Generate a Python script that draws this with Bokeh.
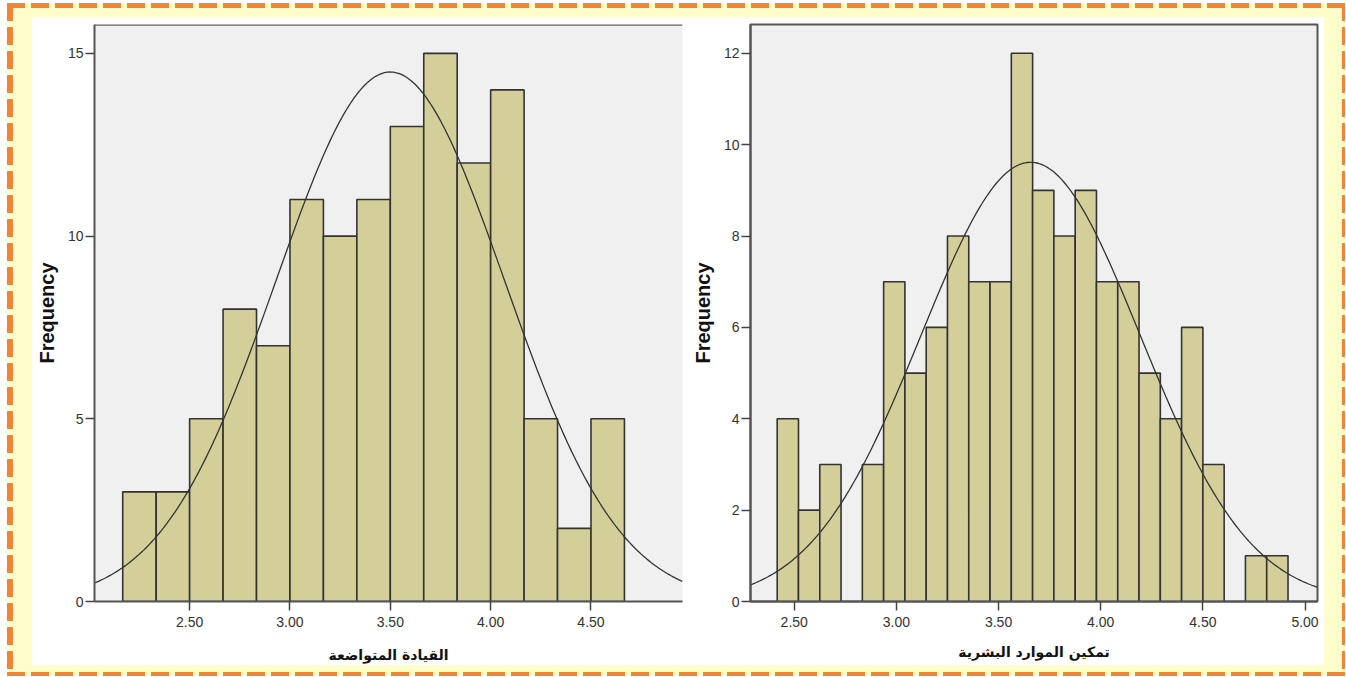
import numpy as np
from bokeh.plotting import figure
from bokeh.layouts import row, column
from bokeh.models import Range1d, FixedTicker, Span, PrintfTickFormatter
from bokeh.embed import file_html
from bokeh.resources import INLINE

# ---------------- data ----------------
left_counts = [3, 3, 5, 8, 7, 11, 10, 11, 13, 15, 12, 14, 5, 2, 5]
left_bin_start = 13 / 6
left_bin_width = 1 / 6
left_mean, left_sd, left_n = 3.50, 0.569, 124
left_xticks = [2.5, 3.0, 3.5, 4.0, 4.5]
left_yticks = [0, 5, 10, 15]
left_xlabel = "القيادة المتواضعة"

right_counts = [4, 2, 3, 0, 3, 7, 5, 6, 8, 7, 7, 12, 9, 8, 9, 7, 7, 5, 4, 6, 3, 0, 1, 1]
right_bin_start = 2.4167
right_bin_width = 2.5 / 24
right_mean, right_sd, right_n = 3.657, 0.536, 124
right_xticks = [2.5, 3.0, 3.5, 4.0, 4.5, 5.0]
right_yticks = [0, 2, 4, 6, 8, 10, 12]
right_xlabel = "تمكين الموارد البشرية"

ylabel = "Frequency"

BAR = "#d4cf99"
BG = "#f0f0f0"
DARK = "#333333"


def make_hist(counts, start, width, mean, sd, n, xr, yr, xticks, yticks, xlabel,
              w, h, mb_left, mb_right, mb_bottom, full_outline, xlab_standoff):
    p = figure(width=w, height=h, output_backend="svg", toolbar_location=None,
               x_range=Range1d(*xr), y_range=Range1d(*yr),
               background_fill_color=BG, border_fill_color="white",
               min_border_left=mb_left, min_border_right=mb_right,
               min_border_top=7, min_border_bottom=mb_bottom)
    p.grid.visible = False
    counts = np.array(counts, dtype=float)
    lefts = start + width * np.arange(len(counts))
    mask = counts > 0
    p.quad(left=lefts[mask], right=lefts[mask] + width, top=counts[mask], bottom=0,
           fill_color=BAR, line_color=DARK, line_width=1.6)
    xs = np.linspace(xr[0], xr[1], 300)
    ys = n * width * np.exp(-0.5 * ((xs - mean) / sd) ** 2) / (sd * np.sqrt(2 * np.pi))
    p.line(xs, ys, line_color=DARK, line_width=1.3)

    if full_outline:
        p.outline_line_color = "#555555"
        p.outline_line_width = 2
    else:
        p.outline_line_color = None
        p.add_layout(Span(location=yr[1], dimension="width", line_color="#666666", line_width=2.5))

    for ax in (p.xaxis[0], p.yaxis[0]):
        ax.axis_line_color = "#555555"
        ax.axis_line_width = 2
        ax.major_tick_line_color = "#444444"
        ax.major_tick_line_width = 1.5
        ax.major_tick_out = 9
        ax.major_tick_in = 0
        ax.minor_tick_line_color = None
        ax.major_label_text_font = "Liberation Sans"
        ax.major_label_text_font_size = "14px"
        ax.major_label_text_color = "#333333"
        ax.axis_label_text_font_style = "bold"
        ax.axis_label_text_color = "#111111"

    p.xaxis.ticker = FixedTicker(ticks=xticks)
    p.xaxis.formatter = PrintfTickFormatter(format="%.2f")
    p.xaxis.major_label_standoff = 6
    p.xaxis.axis_label = xlabel
    p.xaxis.axis_label_text_font = "DejaVu Sans"
    p.xaxis.axis_label_text_font_size = "14px"
    p.xaxis.axis_label_standoff = xlab_standoff

    p.yaxis.ticker = FixedTicker(ticks=yticks)
    p.yaxis.major_label_standoff = 2
    p.yaxis.axis_label = ylabel
    p.yaxis.axis_label_text_font = "Liberation Sans"
    p.yaxis.axis_label_text_font_size = "20px"
    p.yaxis.axis_label_standoff = 7
    return p


p1 = make_hist(left_counts, left_bin_start, left_bin_width, left_mean, left_sd, left_n,
               (2.026, 4.956), (0, 15.79), left_xticks, left_yticks, left_xlabel,
               656, 648, 57, 6, 63, False, 17)
p2 = make_hist(right_counts, right_bin_start, right_bin_width, right_mean, right_sd, right_n,
               (2.286, 5.061), (0, 12.63), right_xticks, right_yticks, right_xlabel,
               636, 648, 58, 7, 63, True, 14)

OR = "#f08534"
bg = (
    f"linear-gradient(90deg, {OR} 18px, transparent 18px) 0 0 / 24px 5px repeat-x, "
    f"linear-gradient(90deg, {OR} 18px, transparent 18px) 0 100% / 24px 4px repeat-x, "
    f"linear-gradient(180deg, {OR} 18px, transparent 18px) 0 0 / 6px 24px repeat-y, "
    f"linear-gradient(180deg, {OR} 18px, transparent 18px) 100% 0 / 3px 24px repeat-y, "
    "#ffffcc"
)

inner = row(p1, p2, styles={"background-color": "white"})
page = column(inner, styles={"padding": "14px 21px 11px 25px", "background": bg,
                             "margin": "3px 0 0 7px"})

open("out.html", "w").write(file_html(page, INLINE))
